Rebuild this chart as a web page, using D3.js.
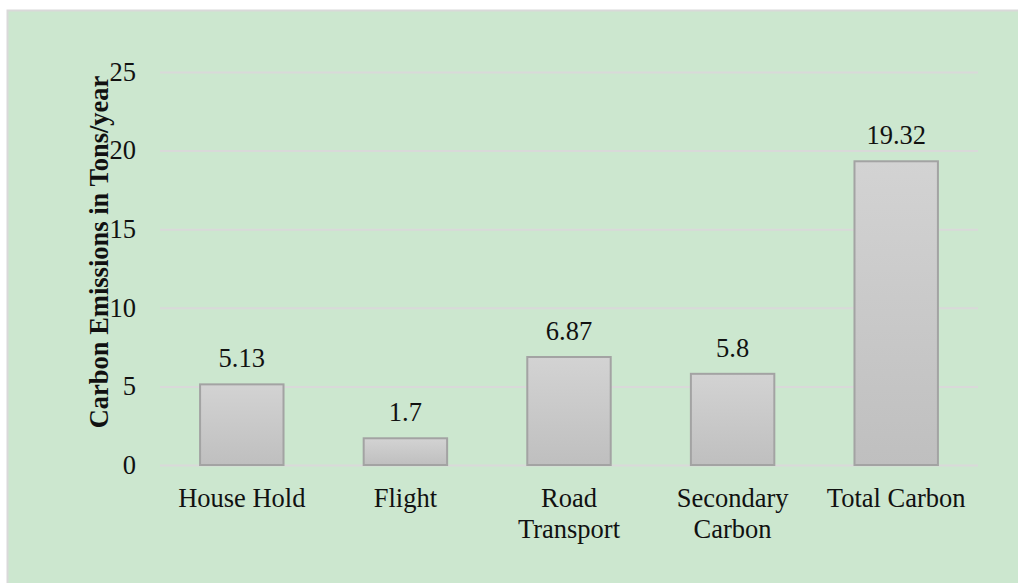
<!DOCTYPE html>
<html>
<head>
<meta charset="utf-8">
<script src="https://cdn.jsdelivr.net/npm/d3@7"></script>
<style>
  html, body { margin: 0; padding: 0; background: #ffffff; }
  svg { display: block; }
</style>
</head>
<body>
<svg id="chart" width="1018" height="583"></svg>
<script>
// Carbon emissions by source (tons per year)
const categories = ["House Hold", "Flight", "Road Transport", "Secondary Carbon", "Total Carbon"];
const categoryLines = [["House Hold"], ["Flight"], ["Road", "Transport"], ["Secondary", "Carbon"], ["Total Carbon"]];
const emissions = [5.13, 1.7, 6.87, 5.8, 19.32];
const yTicks = [0, 5, 10, 15, 20, 25];

const width = 1018, height = 583;
const margin = { top: 72, right: 40, bottom: 118, left: 160 };
const plotRight = 978, plotBottom = 465;
const svg = d3.select("#chart");
const font = "'Liberation Serif', 'Times New Roman', serif";
const fontSize = 26.5;

// Chart panel background with a light border on the top and left
svg.append("rect")
  .attr("x", 7.5).attr("y", 10.5)
  .attr("width", width + 20).attr("height", height + 20)
  .attr("fill", "#cce7cf")
  .attr("stroke", "#d9d9d9").attr("stroke-width", 2);

const defs = svg.append("defs");
const grad = defs.append("linearGradient")
  .attr("id", "barFill").attr("x1", 0).attr("y1", 0).attr("x2", 0).attr("y2", 1);
grad.append("stop").attr("offset", "0%").attr("stop-color", "#d3d3d3");
grad.append("stop").attr("offset", "100%").attr("stop-color", "#bfbfbf");

const x = d3.scaleBand()
  .domain(categories)
  .range([margin.left, plotRight])
  .paddingInner(0.49).paddingOuter(0.245);

const y = d3.scaleLinear()
  .domain([0, 25])
  .range([plotBottom, margin.top]);

// Horizontal gridlines and tick labels
const yAxis = d3.axisLeft(y).tickValues(yTicks).tickSize(-(plotRight - margin.left)).tickPadding(24);
const gy = svg.append("g").attr("transform", `translate(${margin.left},0)`).call(yAxis);
gy.select(".domain").remove();
gy.selectAll(".tick line").attr("stroke", "#d9d9d9").attr("stroke-width", 2);
gy.selectAll(".tick text")
  .attr("font-family", font).attr("font-size", fontSize).attr("fill", "#111")
  .attr("dy", "0.31em");

// Bars
svg.append("g").selectAll("rect")
  .data(emissions)
  .join("rect")
  .attr("x", (d, i) => x(categories[i]))
  .attr("y", d => y(d))
  .attr("width", x.bandwidth())
  .attr("height", d => y(0) - y(d))
  .attr("fill", "url(#barFill)")
  .attr("stroke", "#a3a3a3").attr("stroke-width", 2);

// Value labels above bars
svg.append("g").selectAll("text")
  .data(emissions)
  .join("text")
  .attr("x", (d, i) => x(categories[i]) + x.bandwidth() / 2)
  .attr("y", d => y(d) - 17)
  .attr("text-anchor", "middle")
  .attr("font-family", font).attr("font-size", fontSize).attr("fill", "#111")
  .text(d => d);

// Category labels (wrapped onto two lines where needed)
const catG = svg.append("g").selectAll("text")
  .data(categoryLines)
  .join("text")
  .attr("text-anchor", "middle")
  .attr("font-family", font).attr("font-size", fontSize).attr("fill", "#111")
  .attr("transform", (d, i) => `translate(${x(categories[i]) + x.bandwidth() / 2},507)`);
catG.selectAll("tspan")
  .data(d => d)
  .join("tspan")
  .attr("x", 0)
  .attr("dy", (d, j) => j === 0 ? 0 : 31)
  .text(d => d);

// Y-axis title
svg.append("text")
  .attr("transform", "translate(108,252) rotate(-90)")
  .attr("text-anchor", "middle")
  .attr("font-family", font).attr("font-size", fontSize).attr("font-weight", "bold").attr("fill", "#111")
  .text("Carbon Emissions in Tons/year");
</script>
</body>
</html>
